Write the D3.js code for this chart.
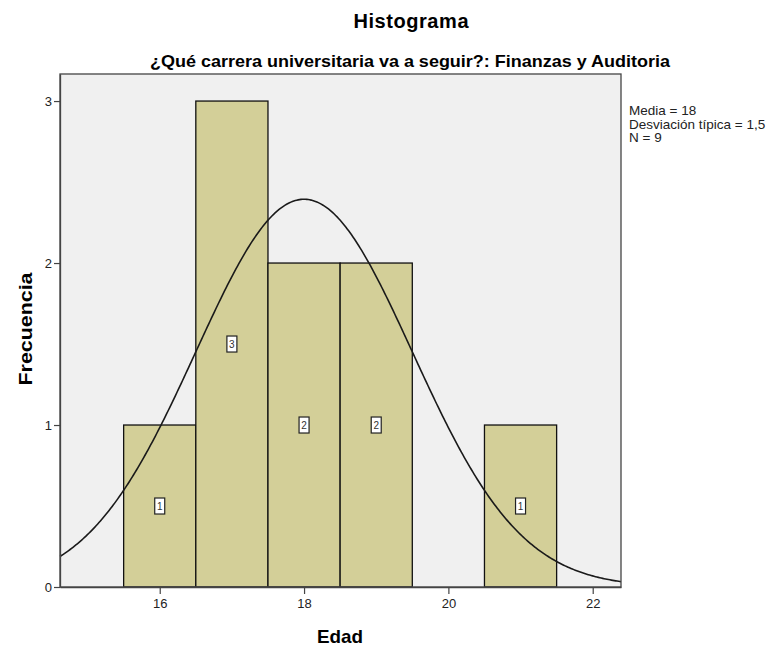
<!DOCTYPE html>
<meta charset="utf-8">
<style>
    body { margin: 0; background: #fff; font-family: 'Liberation Sans', Arial, sans-serif; }
</style>
<svg width="778" height="648"></svg>
<script src="https://d3js.org/d3.v7.min.js"></script>
<script>
    // data
    var binStarts = [15.5, 16.5, 17.5, 18.5, 20.5];
    var binCounts = [1, 3, 2, 2, 1];
    var xTicks = [16, 18, 20, 22];
    var yTicks = [0, 1, 2, 3];
    var stats = ["Media = 18", "Desviación típica = 1,5", "N = 9"];
    var mean = 18, sd = 1.5, n = 9, binWidth = 1;

    var svg = d3.select("svg");
    var pL = 60, pR = 621, pT = 74, pB = 587;

    var x = d3.scaleLinear().domain([14.618, 22.392]).range([pL, pR]);
    var y = d3.scaleLinear().domain([0, 3.167]).range([pB, pT]);

    svg.append("rect").attr("x", pL).attr("y", pT)
        .attr("width", pR - pL).attr("height", pB - pT)
        .attr("fill", "#f0f0f0");

    var bars = binStarts.map(function (s, i) { return { x0: s, x1: s + binWidth, c: binCounts[i] }; });

    svg.append("g").selectAll("rect").data(bars).enter().append("rect")
        .attr("x", function (d) { return x(d.x0); })
        .attr("y", function (d) { return y(d.c); })
        .attr("width", function (d) { return x(d.x1) - x(d.x0); })
        .attr("height", function (d) { return y(0) - y(d.c); })
        .attr("fill", "#d3cf98")
        .attr("stroke", "#111")
        .attr("stroke-width", 1.3);

    // normal curve
    var pts = d3.range(14.618, 22.392, 0.02).concat([22.392]);
    var line = d3.line()
        .x(function (d) { return x(d); })
        .y(function (d) {
            var z = (d - mean) / sd;
            return y(n * binWidth * Math.exp(-0.5 * z * z) / (sd * Math.sqrt(2 * Math.PI)));
        });
    svg.append("path").datum(pts).attr("d", line)
        .attr("fill", "none").attr("stroke", "#1a1a1a").attr("stroke-width", 1.6);

    // count labels
    var lab = svg.append("g").selectAll("g").data(bars).enter().append("g")
        .attr("transform", function (d) {
            return "translate(" + x((d.x0 + d.x1) / 2) + "," + y(d.c / 2) + ")";
        });
    lab.append("rect").attr("x", -5).attr("y", -8).attr("width", 10).attr("height", 16)
        .attr("fill", "#fff").attr("stroke", "#222").attr("stroke-width", 1.2);
    lab.append("text").attr("text-anchor", "middle").attr("y", 4)
        .attr("font-size", 10).attr("fill", "#333")
        .text(function (d) { return d.c; });

    // frame
    svg.append("rect").attr("x", pL).attr("y", pT)
        .attr("width", pR - pL).attr("height", pB - pT)
        .attr("fill", "none").attr("stroke", "#444").attr("stroke-width", 1.3);

    var xAxis = svg.append("g").attr("transform", "translate(0," + pB + ")")
        .call(d3.axisBottom(x).tickValues(xTicks).tickSizeInner(7).tickSizeOuter(0).tickPadding(5));
    var yAxis = svg.append("g").attr("transform", "translate(" + pL + ",0)")
        .call(d3.axisLeft(y).tickValues(yTicks).tickFormat(d3.format("d"))
            .tickSizeInner(6).tickSizeOuter(0).tickPadding(2));
    [xAxis, yAxis].forEach(function (a) {
        a.select(".domain").attr("stroke", "#444").attr("stroke-width", 1.3);
        a.selectAll(".tick line").attr("stroke", "#444").attr("stroke-width", 1.2);
        a.selectAll("text").attr("font-size", 13).attr("fill", "#222")
            .attr("font-family", "'Liberation Sans', Arial, sans-serif");
    });

    svg.append("text").attr("x", 411).attr("y", 28).attr("text-anchor", "middle")
        .attr("font-size", 20).attr("font-weight", "bold")
        .attr("textLength", 115).attr("lengthAdjust", "spacing").text("Histograma");
    svg.append("text").attr("x", 410).attr("y", 67).attr("text-anchor", "middle")
        .attr("font-size", 17).attr("font-weight", "bold")
        .attr("textLength", 520).attr("lengthAdjust", "spacingAndGlyphs")
        .text("¿Qué carrera universitaria va a seguir?: Finanzas y Auditoria");
    svg.append("text").attr("x", 340).attr("y", 643).attr("text-anchor", "middle")
        .attr("font-size", 19).attr("font-weight", "bold")
        .attr("textLength", 46).attr("lengthAdjust", "spacingAndGlyphs").text("Edad");
    svg.append("text").attr("transform", "translate(32,329) rotate(-90)")
        .attr("text-anchor", "middle").attr("font-size", 19).attr("font-weight", "bold")
        .attr("textLength", 113).attr("lengthAdjust", "spacingAndGlyphs")
        .text("Frecuencia");

    svg.append("g").selectAll("text").data(stats).enter().append("text")
        .attr("x", 629).attr("y", function (d, i) { return 115 + i * 13.5; })
        .attr("font-size", 13.5).attr("fill", "#222").text(function (d) { return d; });
</script>
